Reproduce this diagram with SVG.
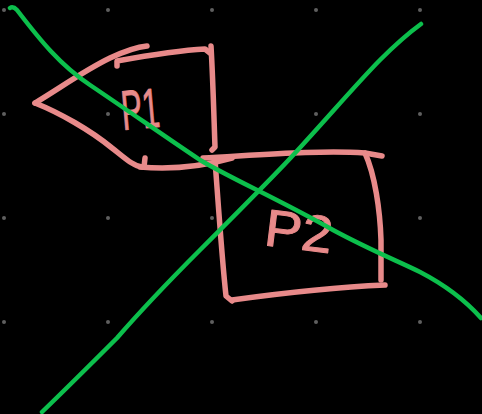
<svg xmlns="http://www.w3.org/2000/svg" width="482" height="414" viewBox="0 0 482 414">
<style>
.bg{fill:#000}
.dot{fill:#5f5f5f}
.pink{fill:none;stroke:#e88a8a;stroke-width:5.5;stroke-linecap:round;stroke-linejoin:round}
.green{fill:none;stroke:#0cbf4c;stroke-width:4.5;stroke-linecap:round;stroke-linejoin:round}
.lbl{font-family:"Liberation Sans",Arial,sans-serif;fill:#e88a8a;stroke:#e88a8a;stroke-width:1;stroke-linejoin:round}
</style>
<rect class="bg" x="0" y="0" width="482" height="414"/>
<g id="grid">
<circle class="dot" cx="4" cy="10" r="2"/><circle class="dot" cx="108" cy="10" r="2"/><circle class="dot" cx="212" cy="10" r="2"/><circle class="dot" cx="316" cy="10" r="2"/><circle class="dot" cx="420" cy="10" r="2"/>
<circle class="dot" cx="4" cy="114" r="2"/><circle class="dot" cx="108" cy="114" r="2"/><circle class="dot" cx="316" cy="114" r="2"/><circle class="dot" cx="420" cy="114" r="2"/>
<circle class="dot" cx="4" cy="218" r="2"/><circle class="dot" cx="108" cy="218" r="2"/><circle class="dot" cx="212" cy="218" r="2"/><circle class="dot" cx="420" cy="218" r="2"/>
<circle class="dot" cx="4" cy="322" r="2"/><circle class="dot" cx="108" cy="322" r="2"/><circle class="dot" cx="212" cy="322" r="2"/><circle class="dot" cx="316" cy="322" r="2"/><circle class="dot" cx="420" cy="322" r="2"/>
</g>
<g id="P1">
<path class="pink" d="M35,103 C60,88 85,70 110,58 C125,51 137,47 147,46"/>
<path class="pink" d="M117,66 L117,61 C150,55 185,50 205,49 L210,53"/>
<path class="pink" d="M211,46 C213,80 214,120 215,147 L212,150"/>
<path class="pink" d="M35,103 C60,113 90,130 112,148 C125,158 133,166 142,167"/>
<path class="pink" d="M140,167 C170,170 200,167 232,158"/>
<path class="pink" d="M144,167 L145,158"/>
<text class="lbl" transform="translate(123,130) rotate(-5)" font-size="56" textLength="38" lengthAdjust="spacingAndGlyphs">P1</text>
</g>
<g id="P2">
<path class="pink" d="M203,158 C260,155 320,150 365,153 L382,156"/>
<path class="pink" d="M215,160 C218,200 222,260 226,296 L232,301"/>
<path class="pink" d="M232,300 C290,292 340,287 385,285"/>
<path class="pink" d="M365,153 C375,175 380,210 381,240 L381,280"/>
<text class="lbl" transform="translate(263,245) rotate(7)" font-size="52" textLength="68" lengthAdjust="spacingAndGlyphs">P2</text>
</g>
<g id="connectors">
<path class="green" d="M10,8 Q13,6 17,10 C40,40 60,65 90,85 C130,112 170,140 200,160 C230,178 280,200 333,230 C370,250 400,262 420,272 C445,285 465,300 481,318"/>
<path class="green" d="M42,412 C70,385 95,360 117,338 C150,300 180,270 200,250 C240,210 280,170 296,152 C330,115 360,80 380,60 C395,45 410,32 421,24"/>
</g>
</svg>
